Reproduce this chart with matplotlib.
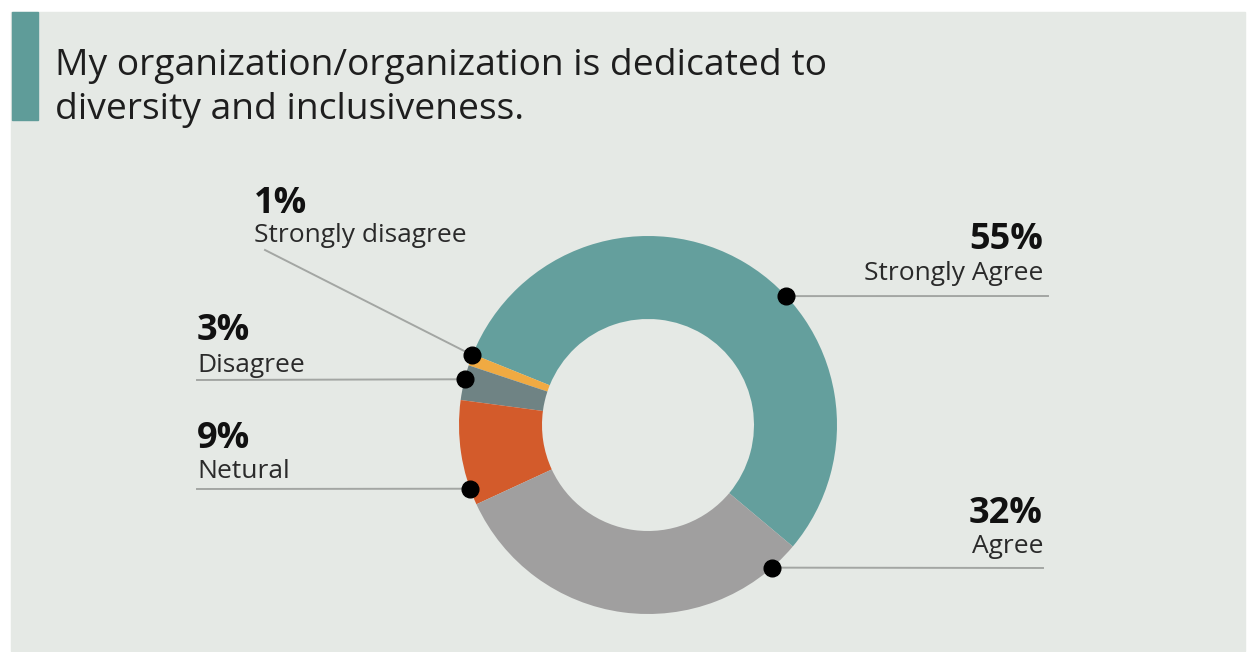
import numpy as np
import matplotlib.pyplot as plt
from matplotlib.patches import Rectangle

plt.rcParams['font.family'] = ['Open Sans', 'DejaVu Sans']

# survey answers, in drawing order (counterclockwise from the lower right)
answers = ['Strongly Agree', 'Strongly disagree', 'Disagree', 'Netural', 'Agree']
shares = [55, 1, 3, 9, 32]
colors = ['#649f9d', '#f0aa42', '#6f8384', '#d35b2b', '#a09f9f']
title_lines = ['My organization/organization is dedicated to',
               'diversity and inclusiveness.']

W, H = 1247, 652
cx, cy = 648, 425
R_OUT, R_IN = 189, 106
START = -40


def Y(y):
    # work in top-down pixel rows
    return H - y


fig = plt.figure(figsize=(W / 100, H / 100), dpi=100)
fig.patch.set_facecolor('white')
ax = fig.add_axes([0, 0, 1, 1])

ax.add_patch(Rectangle((11, Y(651)), 1234, 639, color='#e5e9e5', zorder=0))
ax.add_patch(Rectangle((12, Y(120)), 26, 108, color='#5f9c99', zorder=1))

for line, base in zip(title_lines, [75, 119]):
    ax.text(55, Y(base), line, fontsize=26.8, color='#1e1e1e', va='baseline')

ax.pie(shares, colors=colors, startangle=START, counterclock=True,
       radius=R_OUT, center=(cx, Y(cy)), frame=True,
       wedgeprops=dict(width=R_OUT - R_IN, linewidth=0))

# callouts: dot angle on the ring, line end, text anchor
callouts = {
    'Strongly Agree': dict(ang=43, end=(1048, 296), txt=(1043, 249, 280), ha='right'),
    'Agree': dict(ang=-49, end=(1043, 568), txt=(1043, 523, 553), ha='right'),
    'Netural': dict(ang=199.7, end=(197, 489), txt=(197, 448, 478), ha='left'),
    'Disagree': dict(ang=166, end=(197, 380), txt=(197, 340, 372), ha='left'),
    'Strongly disagree': dict(ang=158.3, end=(265, 250), txt=(254, 213, 242), ha='left'),
}

for name, share in zip(answers, shares):
    c = callouts[name]
    a = np.deg2rad(c['ang'])
    dx, dy = cx + R_OUT * np.cos(a), Y(cy) + R_OUT * np.sin(a)
    ex, ey = c['end']
    ax.plot([dx, ex], [dy, Y(ey)], color='#a3a6a3', lw=1.4, zorder=3)
    ax.plot(dx, dy, 'o', color='black', ms=12, zorder=4)
    tx, y1, y2 = c['txt']
    ax.text(tx, Y(y1), f'{share}%', fontsize=26, fontweight='bold',
            color='#111111', ha=c['ha'], va='baseline')
    ax.text(tx, Y(y2), name, fontsize=19, color='#2a2a2a',
            ha=c['ha'], va='baseline')

ax.set_xlim(0, W)
ax.set_ylim(0, H)
ax.set_aspect('equal')
ax.axis('off')

fig.savefig('out.png', dpi=100)
